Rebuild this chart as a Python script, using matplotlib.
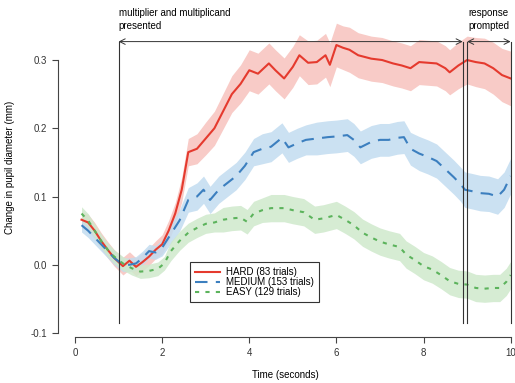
import numpy as np
import matplotlib
matplotlib.use('Agg')
import matplotlib.pyplot as plt
plt.rcParams['font.family'] = ['Liberation Sans', 'DejaVu Sans']

# HARD (red)
t_hard = [0.15, 0.3, 0.45, 0.6, 0.75, 0.9, 1.1, 1.25, 1.4, 1.55, 1.7, 1.85,
          2.0, 2.15, 2.3, 2.45, 2.6, 2.8, 3.0, 3.2, 3.4, 3.6, 3.8, 4.0,
          4.2, 4.45, 4.6, 4.8, 5.0, 5.15, 5.35, 5.55, 5.75, 5.85, 6.0, 6.15,
          6.3, 6.5, 6.8, 7.05, 7.3, 7.5, 7.7, 7.9, 8.1, 8.3, 8.5, 8.6,
          8.8, 9.0, 9.2, 9.4, 9.6, 9.8, 10.0]
hard = [0.066, 0.062, 0.05, 0.035, 0.022, 0.01, -0.002, 0.006, -0.003, 0.004, 0.012, 0.022,
        0.03, 0.05, 0.075, 0.11, 0.165, 0.17, 0.185, 0.2, 0.225, 0.25, 0.265, 0.285,
        0.28, 0.295, 0.285, 0.273, 0.29, 0.307, 0.296, 0.297, 0.307, 0.293, 0.322, 0.318,
        0.315, 0.307, 0.302, 0.3, 0.295, 0.292, 0.288, 0.297, 0.296, 0.295, 0.288, 0.282,
        0.292, 0.300, 0.297, 0.295, 0.288, 0.278, 0.273]
hard_err = ([0.012] * 6 + [0.013] * 6 + [0.014, 0.015, 0.016, 0.018, 0.02, 0.022]
            + [0.024, 0.025, 0.026, 0.027, 0.028, 0.03] + [0.03] * 6 + [0.032] * 6
            + [0.033] * 12 + [0.034, 0.035, 0.036, 0.037, 0.038, 0.039, 0.04])

# MEDIUM (blue)
t_med = [0.15, 0.3, 0.45, 0.6, 0.75, 0.9, 1.1, 1.25, 1.4, 1.55, 1.7, 1.85,
         2.0, 2.2, 2.4, 2.6, 2.8, 2.95, 3.1, 3.3, 3.5, 3.7, 3.9, 4.1,
         4.3, 4.5, 4.75, 4.9, 5.1, 5.3, 5.55, 5.8, 6.0, 6.25, 6.4, 6.55,
         6.8, 7.0, 7.2, 7.4, 7.55, 7.7, 7.9, 8.1, 8.3, 8.5, 8.7, 8.85,
         8.95, 9.1, 9.3, 9.5, 9.7, 9.85, 10.0]
med = [0.058, 0.05, 0.04, 0.03, 0.02, 0.01, 0.0, 0.0, 0.002, 0.01, 0.02, 0.018,
       0.025, 0.045, 0.065, 0.095, 0.1, 0.11, 0.095, 0.11, 0.12, 0.13, 0.145, 0.165,
       0.17, 0.173, 0.186, 0.172, 0.178, 0.183, 0.185, 0.187, 0.188, 0.19, 0.183, 0.172,
       0.18, 0.183, 0.183, 0.186, 0.187, 0.17, 0.163, 0.158, 0.152, 0.14, 0.128, 0.118,
       0.11, 0.108, 0.105, 0.104, 0.1, 0.11, 0.13]
med_err = ([0.01] * 12 + [0.012, 0.014, 0.016, 0.018, 0.02, 0.02] + [0.02] * 6
           + [0.022] * 6 + [0.024] * 12 + [0.025] * 6 + [0.026] * 7)

# EASY (green)
t_easy = [0.15, 0.3, 0.45, 0.6, 0.75, 0.9, 1.1, 1.3, 1.5, 1.7, 1.9, 2.05,
          2.2, 2.4, 2.6, 2.8, 3.0, 3.2, 3.4, 3.6, 3.8, 3.95, 4.1, 4.3,
          4.5, 4.8, 5.0, 5.25, 5.5, 5.7, 6.0, 6.2, 6.4, 6.6, 6.8, 7.0,
          7.2, 7.45, 7.6, 7.8, 8.0, 8.2, 8.4, 8.6, 8.8, 9.0, 9.2, 9.4,
          9.6, 9.75, 9.9, 10.0]
easy = [0.075, 0.065, 0.05, 0.035, 0.022, 0.012, 0.002, -0.005, -0.01, -0.009, -0.006, 0.002,
        0.02, 0.035, 0.047, 0.054, 0.06, 0.062, 0.066, 0.068, 0.069, 0.063, 0.075, 0.08,
        0.083, 0.083, 0.08, 0.077, 0.066, 0.068, 0.073, 0.066, 0.058, 0.047, 0.04, 0.034,
        0.03, 0.026, 0.015, 0.007, -0.002, -0.007, -0.015, -0.024, -0.028, -0.029, -0.034, -0.035,
        -0.034, -0.034, -0.025, -0.015]
easy_err = [0.01] * 12 + [0.014] * 6 + [0.018] * 6 + [0.02] * 28

labels = ['HARD (83 trials)', 'MEDIUM (153 trials)', 'EASY (129 trials)']
events = [1.0, 8.9, 9.0, 10.0]

fig = plt.figure(figsize=(5.15, 3.83), dpi=100)
ax = fig.add_axes([0.1118, 0.1198, 0.884, 0.8304])

series = [
    (t_hard, hard, hard_err, '#e53a2e', '#f7c2bd', '-', labels[0]),
    (t_med, med, med_err, '#3c7fbf', '#c2dcf0', (0, (6, 4)), labels[1]),
    (t_easy, easy, easy_err, '#5cb35c', '#cfe9cc', (0, (2, 3)), labels[2]),
]
for t, y, e, c, fc, ls, lab in series:
    t = np.array(t); y = np.array(y); e = np.array(e)
    ax.fill_between(t, y - e, y + e, color=fc, lw=0, alpha=0.85)
for t, y, e, c, fc, ls, lab in series:
    ax.plot(t, y, color=c, ls=ls, lw=1.5, label=lab)

# event markers
for x in events:
    ax.plot([x, x], [-0.085, 0.327], color='#333333', lw=0.8)
arr = dict(arrowstyle='<->', color='#333333', lw=0.7, shrinkA=0, shrinkB=0)
ax.annotate('', xy=(events[0], 0.327), xytext=(events[1], 0.327), arrowprops=arr)
ax.annotate('', xy=(events[2], 0.327), xytext=(events[3], 0.327), arrowprops=arr)
ax.text(events[0], 0.3755, 'multiplier and multiplicand\npresented', fontsize=7,
        ha='left', va='top', linespacing=1.3, clip_on=False)
ax.text(events[2] + 0.02, 0.3755, 'response\nprompted', fontsize=7,
        ha='left', va='top', linespacing=1.3, clip_on=False)

ax.set_xlim(-0.4, 10.05)
ax.set_ylim(-0.106, 0.36)
ax.set_xticks([0, 2, 4, 6, 8, 10])
ax.set_yticks([-0.1, 0.0, 0.1, 0.2, 0.3])
ax.set_yticklabels(['-0.1', '0.0', '0.1', '0.2', '0.3'])
ax.spines['top'].set_visible(False)
ax.spines['right'].set_visible(False)
ax.spines['bottom'].set_bounds(0, 10)
ax.spines['left'].set_bounds(-0.1, 0.3)
ax.spines['left'].set_color('#444444')
ax.spines['bottom'].set_color('#444444')
ax.tick_params(labelsize=7, length=4, width=0.8, colors='#444444', labelcolor='#333333')
ax.set_xlabel('Time (seconds)', fontsize=7, labelpad=9)
ax.set_ylabel('Change in pupil diameter (mm)', fontsize=7)
ax.yaxis.set_label_coords(-0.0936, 0.535)

leg = ax.legend(loc='upper left', bbox_to_anchor=(0.291, 0.2355), borderaxespad=0,
                fontsize=7, fancybox=False, framealpha=1, handlelength=2.6,
                labelspacing=0.0, borderpad=0.5, handletextpad=0.6)
leg.get_frame().set_edgecolor('#333333')
leg.get_frame().set_linewidth(0.8)

plt.savefig('out.png', dpi=100)
